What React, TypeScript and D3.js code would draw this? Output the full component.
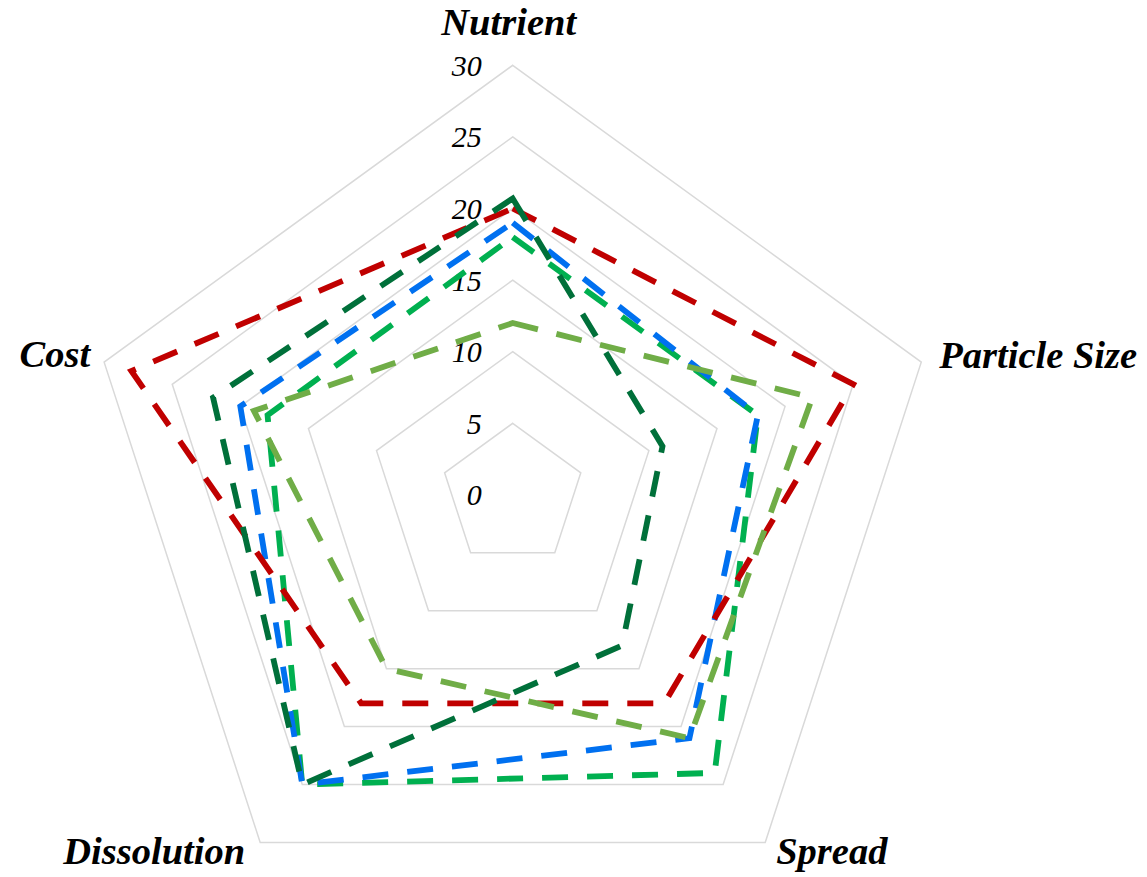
import React from "react";
import * as d3 from "d3";

const axes = ["Nutrient", "Particle Size", "Spread", "Dissolution", "Cost"];
const ticks = [0, 5, 10, 15, 20, 25, 30];
const seriesNames = ["S1", "S2", "S3", "S4", "S5"];
const mediumGreenValues = [18, 18, 24, 25, 18];
const blueValues = [19, 18, 21, 25, 20];
const redValues = [20, 25, 18, 18, 28];
const darkGreenValues = [20.7, 11, 13, 25, 22];
const lightGreenValues = [12, 22, 21, 15, 19];
const seriesValues = [mediumGreenValues, blueValues, redValues, darkGreenValues, lightGreenValues];
const seriesColors = ["#00B050", "#0070F0", "#C00000", "#00703A", "#70AD47"];

const W = 1147;
const H = 877;
const cx = 512.7;
const cy = 494.9;
const R = 429.6;

// label layout offsets (style only)
const labelLayout = [
  { dx: -4, dy: -30, anchor: "middle" },
  { dx: 18, dy: 6, anchor: "start" },
  { dx: 11, dy: 22, anchor: "start" },
  { dx: -15, dy: 22, anchor: "end" },
  { dx: -14, dy: 5, anchor: "end" },
];

export default function App() {
  const r = d3.scaleLinear().domain([0, 30]).range([0, R]);
  const angle = d3
    .scaleLinear()
    .domain([0, axes.length])
    .range([0, 2 * Math.PI]);

  const pt = (i: number, v: number): [number, number] => {
    const a = angle(i);
    return [cx + r(v) * Math.sin(a), cy - r(v) * Math.cos(a)];
  };

  const line = d3
    .line<[number, number]>()
    .x((d) => d[0])
    .y((d) => d[1])
    .curve(d3.curveLinearClosed);

  const serifFont = "'Times New Roman', 'Liberation Serif', serif";

  return (
    <svg
      width={W}
      height={H}
      style={{ position: "absolute", left: 0, top: 0, display: "block", background: "#fff" }}
    >
      <g>
        {ticks
          .filter((t) => t > 0)
          .map((t) => (
            <path
              key={t}
              d={line(axes.map((_, i) => pt(i, t))) || ""}
              fill="none"
              stroke="#D9D9D9"
              strokeWidth={1.5}
            />
          ))}
      </g>
      <g>
        {ticks.map((t) => (
          <text
            key={t}
            x={cx - 31}
            y={pt(0, t)[1] + 10.5}
            textAnchor="end"
            fontFamily={serifFont}
            fontStyle="italic"
            fontSize={30}
            fill="#000"
          >
            {t}
          </text>
        ))}
      </g>
      <g>
        {seriesValues.map((vals, s) => (
          <path
            key={seriesNames[s]}
            d={line(vals.map((v, i) => pt(i, v))) || ""}
            fill="none"
            stroke={seriesColors[s]}
            strokeWidth={5.8}
            strokeDasharray="26 19"
            strokeLinejoin="miter"
          />
        ))}
      </g>
      <g>
        {axes.map((name, i) => {
          const [x, y] = pt(i, 30);
          const l = labelLayout[i];
          return (
            <text
              key={name}
              x={x + l.dx}
              y={y + l.dy}
              textAnchor={l.anchor}
              fontFamily={serifFont}
              fontStyle="italic"
              fontWeight="bold"
              fontSize={38.5}
              fill="#000"
            >
              {name}
            </text>
          );
        })}
      </g>
    </svg>
  );
}
